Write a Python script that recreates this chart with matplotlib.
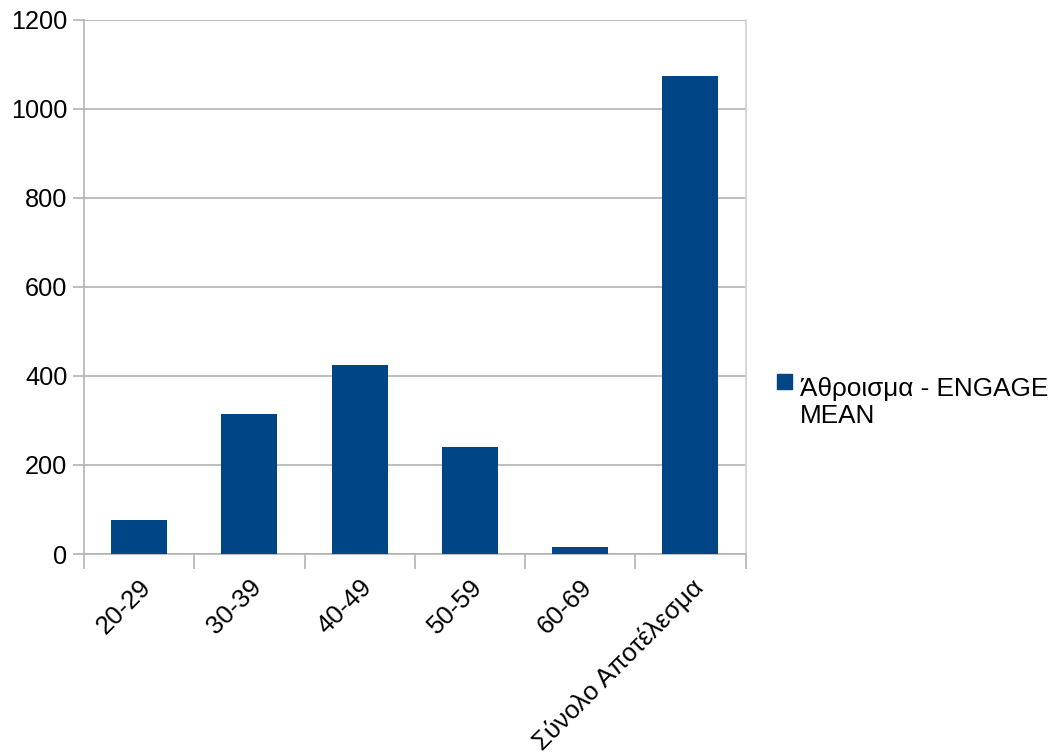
import matplotlib
matplotlib.use("Agg")
import matplotlib.pyplot as plt
from matplotlib.patches import Rectangle
import numpy as np

categories = ["20-29", "30-39", "40-49", "50-59", "60-69", "Σύνολο Αποτέλεσμα"]
values = [77, 315, 425, 240, 16, 1073]
series_name = "Άθροισμα - ENGAGE\nMEAN"
y_ticks = [0, 200, 400, 600, 800, 1000, 1200]

bar_color = "#004586"
grid_color = "#b3b3b3"

plt.rcParams["font.family"] = ["Liberation Sans", "DejaVu Sans"]

W, H = 1053, 756
fig = plt.figure(figsize=(W / 100, H / 100), dpi=100)
ax = fig.add_axes([84 / W, 1 - 554 / H, (745.5 - 84) / W, (554 - 19.5) / H])

x = np.arange(len(categories))
ax.bar(x, values, width=0.51, color=bar_color, zorder=3)

ax.set_xlim(-0.5, len(categories) - 0.5)
ax.set_ylim(0, 1200)
ax.set_yticks(y_ticks)
ax.set_yticklabels([str(v) for v in y_ticks], fontsize=18.2)
ax.yaxis.grid(True, color=grid_color, linewidth=1.2, zorder=0)
ax.tick_params(axis="y", length=8, width=1.2, color=grid_color, pad=4)

ax.set_xticks(x)
ax.set_xticklabels(categories, fontsize=18.5, rotation=45, ha="right",
                   rotation_mode="anchor")
ax.tick_params(axis="x", which="major", length=0, pad=15)
ax.set_xticks(np.arange(-0.5, len(categories)), minor=True)
ax.tick_params(axis="x", which="minor", length=11, width=1.2, color=grid_color)

ax.spines["top"].set_visible(False)
ax.spines["left"].set_color(grid_color)
ax.spines["bottom"].set_color(grid_color)
ax.spines["right"].set_color("#cfcfcf")
for s in ax.spines.values():
    s.set_linewidth(1.2)

# legend entry drawn in figure pixels
fig.patches.append(Rectangle((777 / W, 1 - 389 / H), 15 / W, 15 / H,
                             transform=fig.transFigure, color=bar_color))
fig.text(800 / W, 1 - 423 / H, series_name, fontsize=18.8, ha="left",
         va="baseline", linespacing=1.15)

fig.savefig("out.png", dpi=100)
